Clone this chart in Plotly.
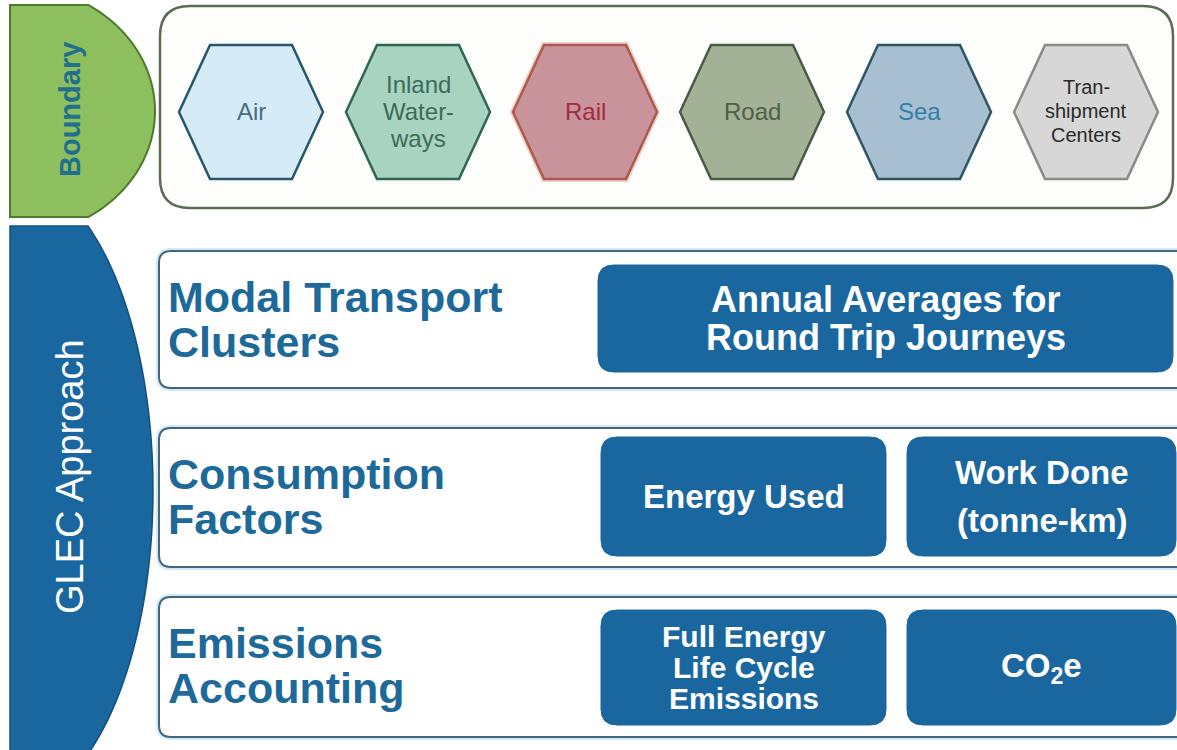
import numpy as np
import plotly.graph_objects as go

W, H = 1177, 750
FONT = "Liberation Sans, Arial, sans-serif"

# ---------------- data ----------------
boundary_label = "Boundary"
approach_label = "GLEC Approach"

mode_lines = [["Air"], ["Inland", "Water-", "ways"], ["Rail"], ["Road"], ["Sea"],
              ["Tran-", "shipment", "Centers"]]
mode_fill = ["#d5ecf8", "#a9d3c1", "#c8939a", "#a3b296", "#a7bfd1", "#d7d7d7"]
mode_edge = ["#2b556a", "#2f6650", "#a85c4e", "#485c45", "#2d5566", "#8a8a8a"]
mode_text = ["#4a6c84", "#3c6b58", "#a02d40", "#4f5f47", "#2f80a8", "#2a2a2a"]
mode_font = [24, 24, 24, 24, 24, 20]

row_titles = [["Modal Transport", "Clusters"],
              ["Consumption", "Factors"],
              ["Emissions", "Accounting"]]
row_boxes = [[["Annual Averages for", "Round Trip Journeys"]],
             [["Energy Used"], ["Work Done", "(tonne-km)"]],
             [["Full Energy", "Life Cycle", "Emissions"], ["CO<sub>2</sub>e"]]]
row_box_font = [[36], [33, 33], [30, 33]]

# ---------------- geometry / style ----------------
BLUE = "#1a67a0"
TITLE = "#1d6a9a"
GREEN = "#8ebf5f"
GREEN_EDGE = "#4e7a2c"

shapes = []
ann = []


def rrect(x0, y0, x1, y1, r):
    return (f"M {x0+r},{y0} L {x1-r},{y0} Q {x1},{y0} {x1},{y0+r} "
            f"L {x1},{y1-r} Q {x1},{y1} {x1-r},{y1} L {x0+r},{y1} "
            f"Q {x0},{y1} {x0},{y1-r} L {x0},{y0+r} Q {x0},{y0} {x0+r},{y0} Z")


def tab(x0, y0, y1, cy, rx, ry):
    ys = np.linspace(y0, y1, 120)
    xs = x0 + rx * np.sqrt(np.clip(1 - ((ys - cy) / ry) ** 2, 0, 1))
    pts = [f"{x0},{y0}"] + [f"{x:.2f},{y:.2f}" for x, y in zip(xs, ys)] + [f"{x0},{y1}"]
    return "M " + " L ".join(pts) + " Z"


def add_path(path, fill, color, width, layer="above"):
    shapes.append(dict(type="path", xref="x", yref="y", path=path, fillcolor=fill,
                       line=dict(color=color, width=width), layer=layer))


def add_text(x, y, text, size, color, bold=False, angle=0, xanchor="center"):
    t = f"<b>{text}</b>" if bold else text
    ann.append(dict(x=x, y=y, xref="x", yref="y", text=t, showarrow=False,
                    xanchor=xanchor, yanchor="middle", textangle=angle,
                    font=dict(family=FONT, size=size, color=color)))


# Boundary tab
add_path(tab(10, 5, 217, 111, 145, 126), GREEN, GREEN_EDGE, 2)
add_text(70, 110, boundary_label, 29, "#216f8e", bold=True, angle=-90)

# Top container
add_path(rrect(160, 6, 1173, 208, 30), "#fdfefb", "#5b6b55", 2.5)

# Hexagons
cy, hw, tw, hh = 112, 72, 41, 67
for i, lines in enumerate(mode_lines):
    cx = 251 + 167 * i
    hexp = (f"M {cx-hw},{cy} L {cx-tw},{cy-hh} L {cx+tw},{cy-hh} L {cx+hw},{cy} "
            f"L {cx+tw},{cy+hh} L {cx-tw},{cy+hh} Z")
    if i == 2:
        add_path(hexp, "rgba(0,0,0,0)", "rgba(235,150,140,0.45)", 6)
    add_path(hexp, mode_fill[i], mode_edge[i], 2.5)
    n = len(lines)
    step = 27 if mode_font[i] >= 24 else 24
    for k, s in enumerate(lines):
        add_text(cx, cy - 1 + (k - (n - 1) / 2) * step, s, mode_font[i], mode_text[i])

# GLEC tab
add_path(tab(10, 226, 752, 490, 143, 315), BLUE, "#14507c", 1.5)
add_text(70, 477, approach_label, 38, "white", angle=-90)

# Rows
row_top = [251, 428, 597]
row_bot = [388, 567, 737]
box_geo = [[(598, 265, 1173, 372)],
           [(601, 437, 886, 556), (907, 437, 1176, 556)],
           [(601, 610, 886, 725), (907, 610, 1176, 725)]]
for r in range(3):
    p = rrect(159, row_top[r], 1200, row_bot[r], 12)
    add_path(p, "rgba(0,0,0,0)", "rgba(170,215,240,0.55)", 6)
    add_path(p, "white", "#44657a", 2)
    for k, s in enumerate(row_titles[r]):
        add_text(166, row_top[r] + 46 + 45 * k, s, 43, TITLE, bold=True, xanchor="left")
    for b, lines in enumerate(row_boxes[r]):
        x0, y0, x1, y1 = box_geo[r][b]
        add_path(rrect(x0, y0, x1, y1, 16), BLUE, BLUE, 1)
        fs = row_box_font[r][b]
        n = len(lines)
        step = 38 if fs >= 36 else (31 if fs <= 30 else 48)
        cyb = (y0 + y1) / 2
        for k, s in enumerate(lines):
            add_text((x0 + x1) / 2, cyb + (k - (n - 1) / 2) * step, s, fs, "white", bold=True)

fig = go.Figure()
fig.update_layout(
    width=W, height=H, autosize=False,
    margin=dict(l=0, r=0, t=0, b=0),
    paper_bgcolor="white", plot_bgcolor="white",
    xaxis=dict(range=[0, W], visible=False, fixedrange=True),
    yaxis=dict(range=[H, 0], visible=False, fixedrange=True),
    shapes=shapes, annotations=ann, showlegend=False,
)
fig.write_html("out.html", post_script="document.body.style.margin='0';",
               config={"displayModeBar": False})
